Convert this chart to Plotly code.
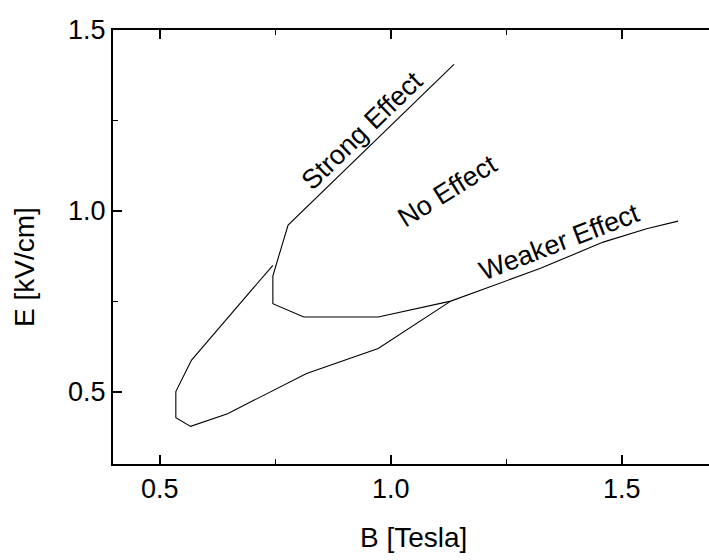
import plotly.graph_objects as go

# Boundary: Strong Effect -> No Effect pocket -> Weaker Effect
b_upper = [1.137, 0.778, 0.753, 0.745, 0.745, 0.812, 0.973, 1.130, 1.323, 1.460, 1.554, 1.622]
e_upper = [1.405, 0.961, 0.855, 0.820, 0.744, 0.707, 0.707, 0.751, 0.841, 0.914, 0.951, 0.972]

# Lower-left loop joining the Weaker Effect boundary
b_lower = [0.745, 0.569, 0.535, 0.535, 0.567, 0.647, 0.818, 0.973, 1.130]
e_lower = [0.850, 0.588, 0.501, 0.429, 0.405, 0.440, 0.551, 0.620, 0.751]

x_ticks = [0.5, 1.0, 1.5]
x_ticktext = ["0.5", "1.0", "1.5"]
y_ticks = [0.5, 1.0, 1.5]
y_ticktext = ["0.5", "1.0", "1.5"]

labels = ["Strong Effect", "No Effect", "Weaker Effect"]
label_b = [0.937, 1.123, 1.366]
label_e = [1.222, 1.055, 0.913]
label_angle = [-44, -32, -21]

FONT = "Liberation Sans, Arial, sans-serif"

fig = go.Figure()
fig.add_trace(go.Scatter(x=b_upper, y=e_upper, mode="lines",
                         line=dict(color="black", width=1.1), showlegend=False))
fig.add_trace(go.Scatter(x=b_lower, y=e_lower, mode="lines",
                         line=dict(color="black", width=1.1), showlegend=False))

for t, xb, ye, a in zip(labels, label_b, label_e, label_angle):
    fig.add_annotation(x=xb, y=ye, text=t, showarrow=False, textangle=a,
                       font=dict(family=FONT, size=27, color="black"),
                       xanchor="center", yanchor="middle")

fig.add_annotation(xref="paper", yref="paper", x=-0.1477, y=0.454, text="E [kV/cm]",
                   textangle=-90, showarrow=False,
                   font=dict(family=FONT, size=28, color="black"),
                   xanchor="center", yanchor="middle")
fig.add_annotation(xref="paper", yref="paper", x=0.504, y=-0.170, text="B [Tesla]",
                   showarrow=False,
                   font=dict(family=FONT, size=28, color="black"),
                   xanchor="center", yanchor="middle")

fig.update_layout(
    width=709, height=560,
    margin=dict(l=113, r=0, t=30, b=96),
    paper_bgcolor="white", plot_bgcolor="white",
    font=dict(family=FONT, size=27, color="black"),
    showlegend=False,
)
fig.update_xaxes(range=[0.399, 1.689], tickvals=x_ticks, ticktext=x_ticktext,
                 showgrid=False, zeroline=False,
                 showline=True, linecolor="black", linewidth=2, mirror="allticks",
                 ticks="inside", ticklen=9, tickwidth=1.5, tickcolor="black",
                 tickfont=dict(family=FONT, size=27, color="black"),
                 minor=dict(tickvals=[0.75, 1.25], ticks="inside", ticklen=5,
                            tickwidth=1.2, tickcolor="black", showgrid=False))
fig.update_yaxes(range=[0.301, 1.5], tickvals=y_ticks, ticktext=y_ticktext,
                 showgrid=False, zeroline=False,
                 showline=True, linecolor="black", linewidth=2, mirror=False,
                 ticks="inside", ticklen=9, tickwidth=1.5, tickcolor="black",
                 tickfont=dict(family=FONT, size=27, color="black"),
                 minor=dict(tickvals=[0.75, 1.25], ticks="inside", ticklen=5,
                            tickwidth=1.2, tickcolor="black", showgrid=False))

fig.write_html("out.html")
